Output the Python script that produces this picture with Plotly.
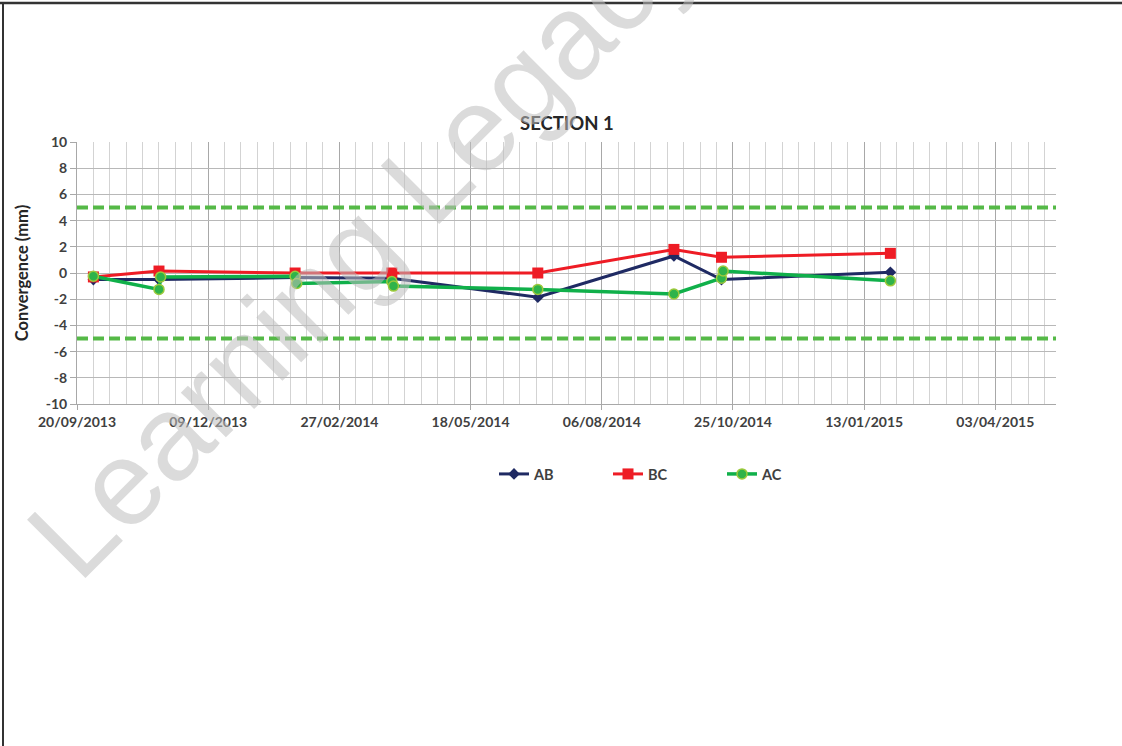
import plotly.graph_objects as go

# ---- data ----
AB_DATES = ["2013-09-30", "2013-11-09", "2014-01-31", "2014-03-31", "2014-06-28",
            "2014-09-19", "2014-10-18", "2015-01-29"]
AB_VALUES = [-0.5, -0.5, -0.35, -0.4, -1.85, 1.3, -0.5, 0.05]

BC_DATES = AB_DATES
BC_VALUES = [-0.3, 0.15, 0.0, 0.0, 0.0, 1.8, 1.2, 1.5]

AC_DATES = ["2013-09-30", "2013-11-09", "2013-11-10", "2014-01-31", "2014-02-01",
            "2014-03-31", "2014-04-01", "2014-06-28", "2014-09-19", "2014-10-18",
            "2014-10-19", "2015-01-29"]
AC_VALUES = [-0.25, -1.25, -0.3, -0.25, -0.8, -0.65, -1.0, -1.25, -1.6, -0.4, 0.15, -0.6]

LIMITS = [5, -5]
X_RANGE = ["2013-09-20", "2015-05-10"]
Y_RANGE = [-10, 10]
Y_TICKS = [10, 8, 6, 4, 2, 0, -2, -4, -6, -8, -10]
Y_TICK_LABELS = ["10", "8", "6", "4", "2", "0", "-2", "-4", "-6", "-8", "-10"]
DAY_MS = 86400000

W, H = 1122, 746
L, R, T, B = 77, 66, 142, 342
PW, PH = W - L - R, H - T - B


def px_x(px):
    return (px - L) / PW


def px_y(py):
    return (H - B - py) / PH


FONT = "Lato"
TXT = "#404040"

fig = go.Figure()

fig.add_trace(go.Scatter(
    x=AB_DATES, y=AB_VALUES, name="AB", mode="lines+markers",
    line=dict(color="#1f2a63", width=3),
    marker=dict(symbol="diamond", size=9, color="#1f2a63"),
))
fig.add_trace(go.Scatter(
    x=BC_DATES, y=BC_VALUES, name="BC", mode="lines+markers",
    line=dict(color="#ee1c25", width=3),
    marker=dict(symbol="square", size=11, color="#ee1c25"),
))
fig.add_trace(go.Scatter(
    x=AC_DATES, y=AC_VALUES, name="AC", mode="lines+markers",
    line=dict(color="#10b04a", width=3.5),
    marker=dict(symbol="circle", size=10, color="#2fb34a",
                line=dict(color="#9cc93b", width=1.5)),
))

for lim in LIMITS:
    fig.add_shape(type="line", xref="paper", x0=0, x1=1, yref="y", y0=lim, y1=lim,
                  line=dict(color="#55b947", width=4, dash="11px,5px"), layer="above")

# page frame
fig.add_shape(type="line", xref="paper", yref="paper",
              x0=px_x(3), x1=px_x(3), y0=px_y(3), y1=px_y(746),
              line=dict(color="#333333", width=2))
fig.add_shape(type="line", xref="paper", yref="paper",
              x0=px_x(0), x1=px_x(1122), y0=px_y(3), y1=px_y(3),
              line=dict(color="#333333", width=2.5))

# title
fig.add_annotation(text="SECTION 1", xref="paper", yref="paper",
                   x=0.5, y=px_y(123), showarrow=False, xanchor="center", yanchor="middle",
                   font=dict(family=FONT, size=18.5, color="#262626", weight="bold"))

# watermark
fig.add_annotation(text="Learning Legacy", xref="paper", yref="paper",
                   x=px_x(362), y=px_y(242), showarrow=False, textangle=-45,
                   xanchor="center", yanchor="middle",
                   font=dict(family="Liberation Sans", size=120, color="rgba(190,190,190,0.55)"))

fig.update_layout(
    width=W, height=H,
    margin=dict(l=L, r=R, t=T, b=B, pad=0),
    paper_bgcolor="white", plot_bgcolor="white",
    font=dict(family=FONT, size=14, color=TXT),
    showlegend=True,
    legend=dict(orientation="h", x=px_x(494), xanchor="left", y=px_y(474), yanchor="middle",
                entrywidth=69, entrywidthmode="pixels",
                font=dict(family=FONT, size=14.5, color=TXT, weight="bold"),
                bgcolor="rgba(0,0,0,0)"),
    xaxis=dict(
        type="date", range=X_RANGE,
        tick0="2013-09-20", dtick=80 * DAY_MS, tickformat="%d/%m/%Y",
        showgrid=True, gridcolor="#a8a8a8", gridwidth=1,
        ticks="outside", ticklen=5, tickcolor="#a8a8a8",
        tickfont=dict(family=FONT, size=14, color=TXT, weight="bold"),
        showline=True, linecolor="#a8a8a8", linewidth=1,
        minor=dict(dtick=10 * DAY_MS, tick0="2013-09-20", showgrid=True,
                   gridcolor="#d3d3d3", gridwidth=1),
        zeroline=False, mirror=False,
    ),
    yaxis=dict(
        range=Y_RANGE, tickmode="array", tickvals=Y_TICKS, ticktext=Y_TICK_LABELS,
        showgrid=True, gridcolor="#b8b8b8", gridwidth=1,
        ticks="outside", ticklen=6, tickcolor="#a8a8a8",
        tickfont=dict(family=FONT, size=14, color=TXT, weight="bold"),
        showline=True, linecolor="#a8a8a8", linewidth=1,
        zeroline=False,
        title=dict(text="Convergence (mm)", standoff=12,
                   font=dict(family=FONT, size=16.5, color="#262626", weight="bold")),
    ),
)

fig.write_html("out.html", config={"displayModeBar": False},
               post_script="document.body.style.margin='0';")
